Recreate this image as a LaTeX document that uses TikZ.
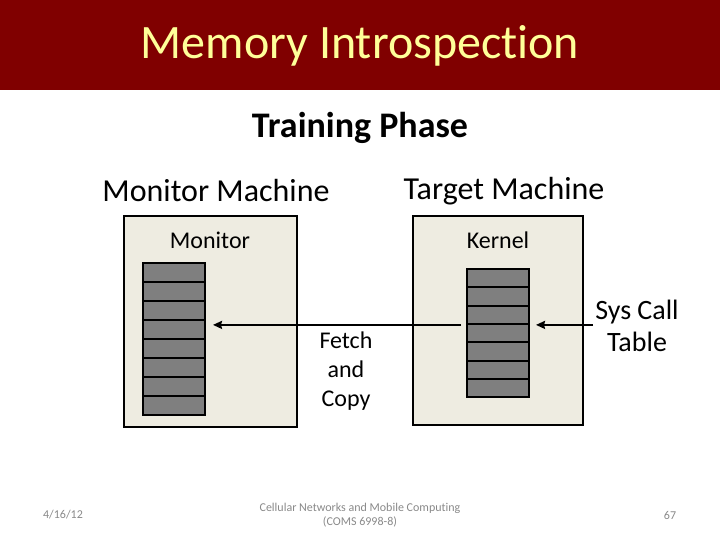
\documentclass[tikz,border=0pt]{standalone}
\usepackage{fontspec}
\setmainfont{Carlito}[Ligatures=NoCommon]
\usetikzlibrary{positioning, arrows.meta}
\definecolor{titlered}{HTML}{800000}
\definecolor{titleyellow}{HTML}{FFFF99}
\definecolor{boxtan}{HTML}{EEECE1}
\definecolor{cellgray}{HTML}{7F7F7F}
\definecolor{footgray}{HTML}{898989}

\begin{document}
\begin{tikzpicture}[x=1pt, y=-1pt,
    machine/.style={draw, line width=2.5pt, fill=boxtan, inner sep=0pt},
    cell/.style={draw, line width=2pt, fill=cellgray, minimum width=62pt, inner sep=0pt},
    fetch/.style={line width=2pt, -{Stealth[length=9pt, width=8pt, inset=1pt]}},
    foot/.style={text=footgray}]
        \useasboundingbox (0,0) rectangle (720,540);

        % Title bar
        \fill[titlered] (0,0) rectangle (720,90);
        \node[text=titleyellow, font=\fontsize{48}{56}\selectfont] (title) at (360,46) {Memory Introspection};
        \node[font=\bfseries\fontsize{36}{42}\selectfont] (phase) at (360,128) {Training Phase};

        % Machines
        \node[font=\fontsize{32}{38}\selectfont] (monmach) at (216,191) {Monitor Machine};
        \node[font=\fontsize{32}{38}\selectfont] (tgtmach) at (504,191) {Target Machine};
        \node[machine, minimum width=173pt, minimum height=211pt] (monbox) at (210.5,321.5) {};
        \node[machine, minimum width=170pt, minimum height=209pt] (tgtbox) at (498,320.5) {};
        \node[font=\fontsize{24}{29}\selectfont] (monitor) at (210,240) {Monitor};
        \node[font=\fontsize{24}{29}\selectfont] (kernel) at (498,240) {Kernel};

        % Memory stacks
        \foreach \i in {1,...,8}
            \node[cell, minimum height=19pt] (m\i) at (174,{263+19*(\i-0.5)}) {};
        \foreach \i in {1,...,7}
            \node[cell, minimum height=18.3pt] (k\i) at (498,{269+18.3*(\i-0.5)}) {};

        % Labels and arrows
        \node[font=\fontsize{24}{29}\selectfont, align=center] (copy) at (346,371) {Fetch\\and\\Copy};
        \node[font=\fontsize{28}{32}\selectfont, align=center] (syscall) at (637,326) {Sys Call\\Table};
        \draw[fetch, shorten >=7pt] ([xshift=-5pt]k3.south west) -- (m3.east |- k3.south);
        \draw[fetch, shorten >=6pt] ([xshift=-44pt]syscall.center |- k3.south) -- (k3.south east);

        % Footer
        \node[foot, font=\fontsize{12}{14}\selectfont] (date) at (63,515) {4/16/12};
        \node[foot, font=\fontsize{12}{14}\selectfont, align=center] (course) at (360,515) {Cellular Networks and Mobile Computing\\(COMS 6998-8)};
        \node[foot, font=\fontsize{12}{14}\selectfont] (page) at (670,515) {67};
    \end{tikzpicture}
\end{document}
